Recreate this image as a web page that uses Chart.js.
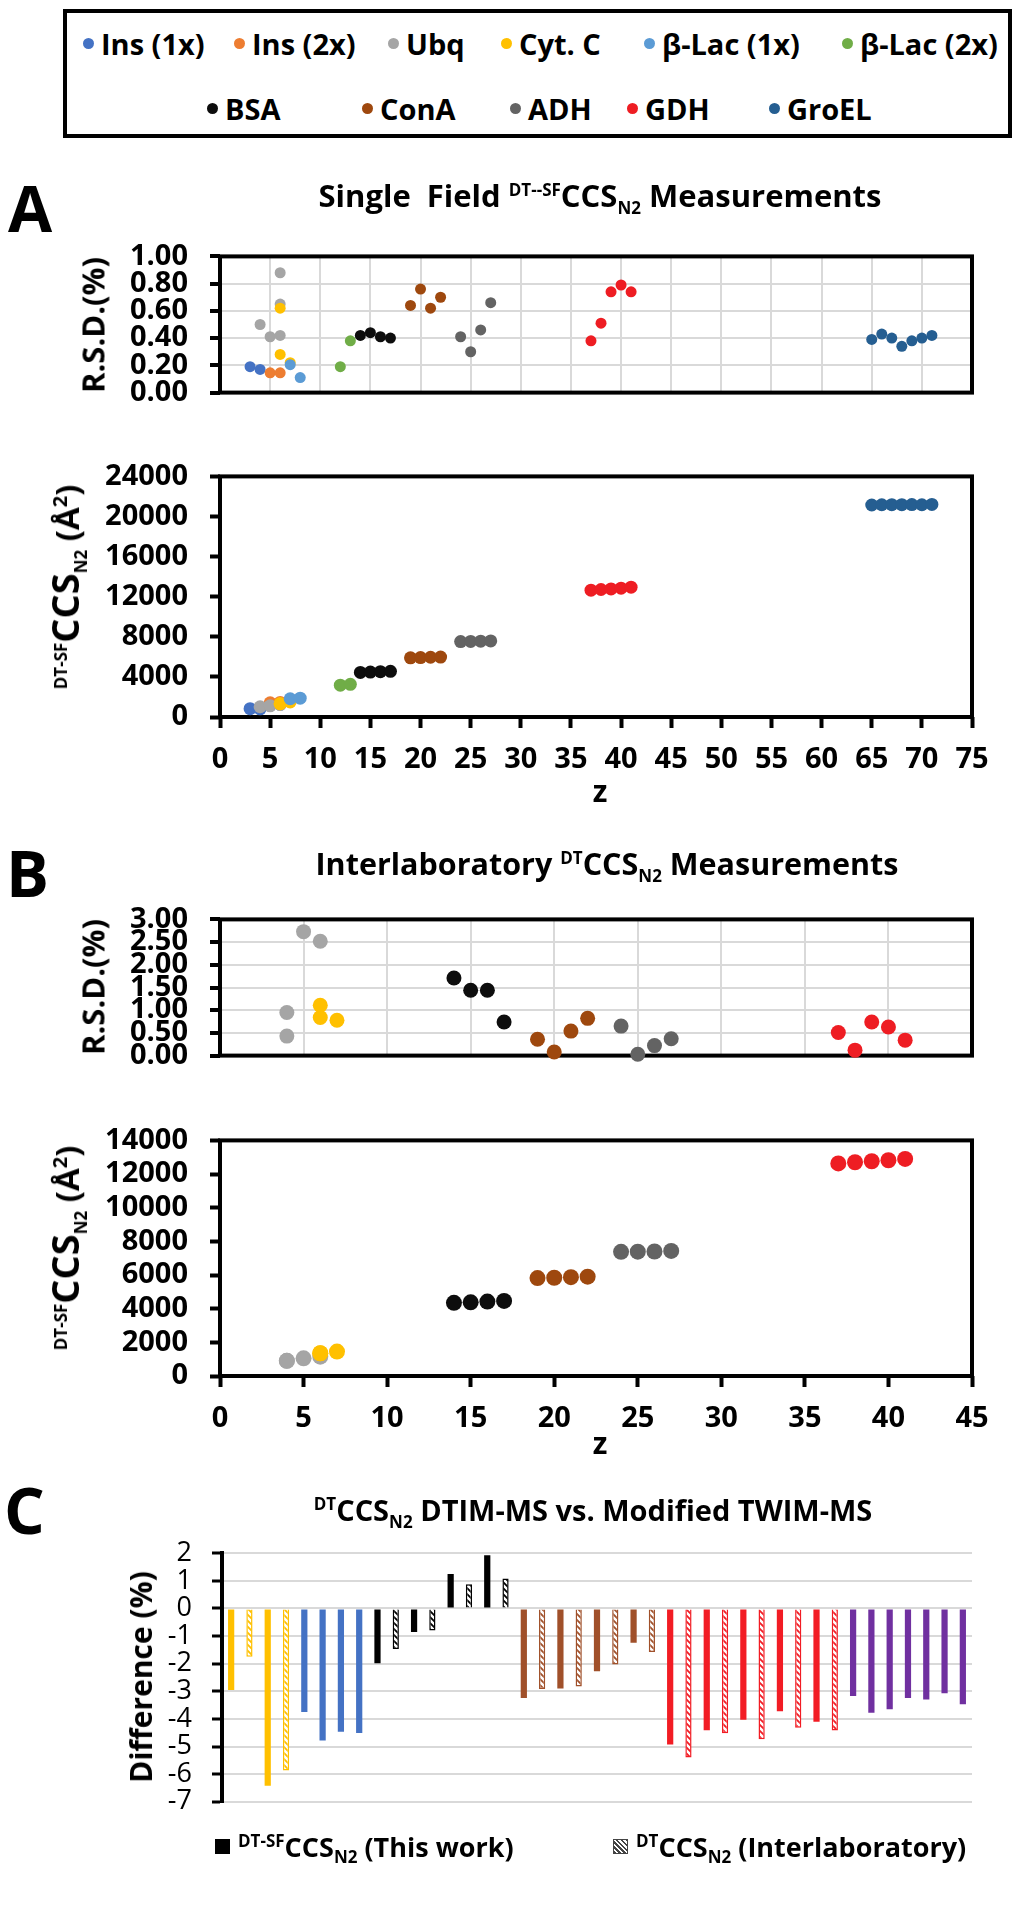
<!DOCTYPE html>
<html>
<head>
<meta charset="utf-8">
<title>CCS measurements</title>
<script src="https://cdn.jsdelivr.net/npm/chart.js@4.4.1/dist/chart.umd.min.js"></script>
<style>
  html, body { margin: 0; padding: 0; background: #fff; }
  #page { position: relative; width: 1025px; height: 1920px; overflow: hidden; font-family: 'Open Sans', sans-serif; color: #000; }
  #page canvas { position: absolute; left: 0; }
  .t { position: absolute; white-space: nowrap; line-height: 1; font-weight: 700; }
  .mid { transform: translateX(-50%); }
  .rot { transform: translate(-50%, -50%) rotate(-90deg); }
  .s { font-size: 17px; line-height: 0; }
  .big { font-size: 38px; }
  #legBox { position: absolute; left: 63px; top: 9px; width: 949px; height: 129px; border: 4px solid #000; box-sizing: border-box; }
  .li { position: absolute; height: 40px; display: flex; align-items: center; font-size: 29px; font-weight: 700; white-space: nowrap; }
  .li i { display: inline-block; width: 11px; height: 11px; border-radius: 50%; margin-right: 7px; }
  .cl { position: absolute; height: 40px; display: flex; align-items: center; font-size: 27px; font-weight: 700; white-space: nowrap; }
  .cl span.lab { line-height: 1; }
  .sq { display: inline-block; width: 15px; height: 15px; margin-right: 8px; box-sizing: border-box; }
</style>
</head>
<body>
<div id="page">
  <canvas id="aTop" width="1025" height="215" style="top:217px"></canvas>
  <canvas id="aBot" width="1025" height="345" style="top:437px"></canvas>
  <canvas id="bTop" width="1025" height="215" style="top:880px"></canvas>
  <canvas id="bBot" width="1025" height="340" style="top:1101px"></canvas>
  <canvas id="cBar" width="1025" height="321" style="top:1517px"></canvas>

  <!-- shared legend for A and B -->
  <div id="legBox"></div>
  <div class="li" style="left:83px;top:23px"><i style="background:#4472C4"></i>Ins (1x)</div>
  <div class="li" style="left:234px;top:23px"><i style="background:#ED7D31"></i>Ins (2x)</div>
  <div class="li" style="left:388px;top:23px"><i style="background:#A5A5A5"></i>Ubq</div>
  <div class="li" style="left:501px;top:23px"><i style="background:#FFC000"></i>Cyt. C</div>
  <div class="li" style="left:644px;top:23px"><i style="background:#5B9BD5"></i>β-Lac (1x)</div>
  <div class="li" style="left:842px;top:23px"><i style="background:#70AD47"></i>β-Lac (2x)</div>
  <div class="li" style="left:207px;top:88px"><i style="background:#0D0D0D"></i>BSA</div>
  <div class="li" style="left:362px;top:88px"><i style="background:#9E480E"></i>ConA</div>
  <div class="li" style="left:510px;top:88px"><i style="background:#636363"></i>ADH</div>
  <div class="li" style="left:627px;top:88px"><i style="background:#EE1D23"></i>GDH</div>
  <div class="li" style="left:769px;top:88px"><i style="background:#255E91"></i>GroEL</div>

  <!-- panel A -->
  <div class="t" style="left:8px;top:176px;font-size:64px">A</div>
  <div class="t mid" style="left:600px;top:180px;font-size:31px">Single&nbsp; Field <sup class="s">DT--SF</sup>CCS<sub class="s">N2</sub> Measurements</div>
  <div class="t rot" style="left:93px;top:325px;font-size:31px">R.S.D.(%)</div>
  <div class="t rot" style="left:64px;top:587px;font-size:33px"><sup class="s">DT-SF</sup><span class="big">CCS</span><sub class="s">N2</sub> (Å<sup style="font-size:20px;line-height:0">2</sup>)</div>
  <div class="t mid" style="left:600px;top:776px;font-size:30px">z</div>

  <!-- panel B -->
  <div class="t" style="left:6px;top:841px;font-size:64px">B</div>
  <div class="t mid" style="left:607px;top:848px;font-size:30.5px">Interlaboratory <sup class="s">DT</sup>CCS<sub class="s">N2</sub> Measurements</div>
  <div class="t rot" style="left:93px;top:987px;font-size:31px">R.S.D.(%)</div>
  <div class="t rot" style="left:64px;top:1248px;font-size:33px"><sup class="s">DT-SF</sup><span class="big">CCS</span><sub class="s">N2</sub> (Å<sup style="font-size:20px;line-height:0">2</sup>)</div>
  <div class="t mid" style="left:600px;top:1428px;font-size:30px">z</div>

  <!-- panel C -->
  <div class="t" style="left:4px;top:1478px;font-size:64px">C</div>
  <div class="t mid" style="left:593px;top:1495px;font-size:29px"><sup class="s">DT</sup>CCS<sub class="s">N2</sub> DTIM-MS vs. Modified TWIM-MS</div>
  <div class="t rot" style="left:141px;top:1677px;font-size:30px">Difference (%)</div>
  <div class="cl" style="left:215px;top:1826px"><span class="sq" style="background:#000"></span><span class="lab"><sup class="s">DT-SF</sup>CCS<sub class="s">N2</sub> (This work)</span></div>
  <div class="cl" style="left:613px;top:1826px"><span class="sq" style="border:1px solid #444;background:repeating-linear-gradient(45deg,#444 0 1.5px,#fff 1.5px 3.5px)"></span><span class="lab"><sup class="s">DT</sup>CCS<sub class="s">N2</sub> (Interlaboratory)</span></div>
</div>

<script>
// axis ticks
const zTicksA = [0, 5, 10, 15, 20, 25, 30, 35, 40, 45, 50, 55, 60, 65, 70, 75];
const rsdTicksA = [0, 0.2, 0.4, 0.6, 0.8, 1.0];
const ccsTicksA = [0, 4000, 8000, 12000, 16000, 20000, 24000];
const zTicksB = [0, 5, 10, 15, 20, 25, 30, 35, 40, 45];
const rsdTicksB = [0, 0.5, 1.0, 1.5, 2.0, 2.5, 3.0];
const ccsTicksB = [0, 2000, 4000, 6000, 8000, 10000, 12000, 14000];
const diffTicks = [-7, -6, -5, -4, -3, -2, -1, 0, 1, 2];

// A: single field DT-SF CCS (charge state, RSD %, CCS A^2)
const sfIns1Z = [3, 4];
const sfIns1Rsd = [0.19, 0.17];
const sfIns1Ccs = [830, 820];
const sfIns2Z = [5, 6];
const sfIns2Rsd = [0.145, 0.145];
const sfIns2Ccs = [1410, 1450];
const sfUbqZ = [4, 5, 6, 6, 6];
const sfUbqRsd = [0.50, 0.41, 0.42, 0.65, 0.88];
const sfUbqCcs = [1020, 1110, 1250, 1250, 1250];
const sfCytZ = [6, 6, 7];
const sfCytRsd = [0.62, 0.28, 0.22];
const sfCytCcs = [1320, 1320, 1500];
const sfLac1Z = [7, 8];
const sfLac1Rsd = [0.205, 0.11];
const sfLac1Ccs = [1820, 1880];
const sfLac2Z = [12, 13];
const sfLac2Rsd = [0.19, 0.38];
const sfLac2Ccs = [3170, 3260];
const sfBsaZ = [14, 15, 16, 17];
const sfBsaRsd = [0.42, 0.44, 0.41, 0.40];
const sfBsaCcs = [4450, 4480, 4520, 4560];
const sfConZ = [19, 20, 21, 22];
const sfConRsd = [0.64, 0.76, 0.62, 0.70];
const sfConCcs = [5900, 5930, 5960, 5980];
const sfAdhZ = [24, 25, 26, 27];
const sfAdhRsd = [0.41, 0.30, 0.46, 0.66];
const sfAdhCcs = [7520, 7540, 7560, 7590];
const sfGdhZ = [37, 38, 39, 40, 41];
const sfGdhRsd = [0.38, 0.51, 0.74, 0.79, 0.74];
const sfGdhCcs = [12650, 12720, 12780, 12850, 12950];
const sfGroZ = [65, 66, 67, 68, 69, 70, 71];
const sfGroRsd = [0.39, 0.43, 0.40, 0.34, 0.38, 0.40, 0.42];
const sfGroCcs = [21150, 21170, 21180, 21180, 21190, 21170, 21200];

// B: interlaboratory DT CCS
const ilUbqZ = [4, 4, 5, 6];
const ilUbqRsd = [0.95, 0.43, 2.73, 2.52];
const ilUbqCcs = [900, 900, 1050, 1150];
const ilCytZ = [6, 6, 7];
const ilCytRsd = [1.11, 0.84, 0.78];
const ilCytCcs = [1350, 1350, 1450];
const ilBsaZ = [14, 15, 16, 17];
const ilBsaRsd = [1.71, 1.44, 1.44, 0.74];
const ilBsaCcs = [4350, 4380, 4420, 4460];
const ilConZ = [19, 20, 21, 22];
const ilConRsd = [0.36, 0.08, 0.54, 0.82];
const ilConCcs = [5820, 5840, 5870, 5900];
const ilAdhZ = [24, 25, 26, 27];
const ilAdhRsd = [0.65, 0.03, 0.22, 0.37];
const ilAdhCcs = [7380, 7390, 7400, 7430];
const ilGdhZ = [37, 38, 39, 40, 41];
const ilGdhRsd = [0.51, 0.12, 0.74, 0.63, 0.34];
const ilGdhCcs = [12630, 12700, 12760, 12820, 12900];

// C: % difference DTIM-MS vs modified TWIM-MS, one bar per ion
const diffProtein = ['Cyt. C', 'Cyt. C', 'Cyt. C', 'Cyt. C', 'Ins', 'Ins', 'Ins', 'Ins',
  'BSA', 'BSA', 'BSA', 'BSA', 'BSA', 'BSA', 'BSA', 'BSA',
  'ConA', 'ConA', 'ConA', 'ConA', 'ConA', 'ConA', 'ConA', 'ConA',
  'GDH', 'GDH', 'GDH', 'GDH', 'GDH', 'GDH', 'GDH', 'GDH', 'GDH', 'GDH',
  'Other', 'Other', 'Other', 'Other', 'Other', 'Other', 'Other'];
const diffThisWork = [-2.95, null, -6.42, null, -3.75, -4.78, -4.46, -4.51,
  -1.98, null, -0.85, null, 1.25, null, 1.93, null,
  -3.24, null, -2.90, null, -2.27, null, -1.24, null,
  -4.93, null, -4.41, null, -4.03, null, -3.72, null, -4.10, null,
  -3.17, -3.78, -3.65, -3.24, -3.30, -3.07, -3.47];
const diffInterlab = [null, -1.75, null, -5.87, null, null, null, null,
  null, -1.47, null, -0.80, null, 0.88, null, 1.08,
  null, -2.92, null, -2.83, null, -2.03, null, -1.58,
  null, -5.40, null, -4.52, null, -4.74, null, -4.32, null, -4.42,
  null, null, null, null, null, null, null];

const colors = {
  'Ins (1x)': '#4472C4', 'Ins (2x)': '#ED7D31', 'Ubq': '#A5A5A5', 'Cyt. C': '#FFC000',
  'β-Lac (1x)': '#5B9BD5', 'β-Lac (2x)': '#70AD47', 'BSA': '#0D0D0D', 'ConA': '#9E480E',
  'ADH': '#636363', 'GDH': '#EE1D23', 'GroEL': '#255E91'
};
const barColors = { 'Cyt. C': '#FFC000', 'Ins': '#4472C4', 'BSA': '#000000', 'ConA': '#A0502A', 'GDH': '#F21C24', 'Other': '#7030A0' };

const singleField = [
  { name: 'Ins (1x)', z: sfIns1Z, rsd: sfIns1Rsd, ccs: sfIns1Ccs },
  { name: 'Ins (2x)', z: sfIns2Z, rsd: sfIns2Rsd, ccs: sfIns2Ccs },
  { name: 'Ubq', z: sfUbqZ, rsd: sfUbqRsd, ccs: sfUbqCcs },
  { name: 'Cyt. C', z: sfCytZ, rsd: sfCytRsd, ccs: sfCytCcs },
  { name: 'β-Lac (1x)', z: sfLac1Z, rsd: sfLac1Rsd, ccs: sfLac1Ccs },
  { name: 'β-Lac (2x)', z: sfLac2Z, rsd: sfLac2Rsd, ccs: sfLac2Ccs },
  { name: 'BSA', z: sfBsaZ, rsd: sfBsaRsd, ccs: sfBsaCcs },
  { name: 'ConA', z: sfConZ, rsd: sfConRsd, ccs: sfConCcs },
  { name: 'ADH', z: sfAdhZ, rsd: sfAdhRsd, ccs: sfAdhCcs },
  { name: 'GDH', z: sfGdhZ, rsd: sfGdhRsd, ccs: sfGdhCcs },
  { name: 'GroEL', z: sfGroZ, rsd: sfGroRsd, ccs: sfGroCcs }
];
const interlab = [
  { name: 'Ubq', z: ilUbqZ, rsd: ilUbqRsd, ccs: ilUbqCcs },
  { name: 'Cyt. C', z: ilCytZ, rsd: ilCytRsd, ccs: ilCytCcs },
  { name: 'BSA', z: ilBsaZ, rsd: ilBsaRsd, ccs: ilBsaCcs },
  { name: 'ConA', z: ilConZ, rsd: ilConRsd, ccs: ilConCcs },
  { name: 'ADH', z: ilAdhZ, rsd: ilAdhRsd, ccs: ilAdhCcs },
  { name: 'GDH', z: ilGdhZ, rsd: ilGdhRsd, ccs: ilGdhCcs }
];

Chart.defaults.font.family = "'Open Sans', sans-serif";
Chart.defaults.color = '#000';

// black box around the plot area
const frame = {
  id: 'frame',
  beforeDatasetsDraw(chart, args, opts) {
    if (!opts.on) return;
    const a = chart.chartArea;
    const ctx = chart.ctx;
    ctx.save();
    ctx.strokeStyle = '#000';
    ctx.lineWidth = 4;
    ctx.strokeRect(a.left, a.top, a.right - a.left, a.bottom - a.top);
    ctx.restore();
  }
};

const tickFont = { size: 29, weight: 'bold' };

function scatterChart(id, series, key, xTicks, yTicks, radius, labelled) {
  const datasets = series.map((s, i) => ({
    label: s.name,
    data: s.z.map((z, j) => ({ x: z, y: s[key][j] })),
    backgroundColor: colors[s.name],
    borderWidth: 0,
    pointRadius: radius,
    pointHoverRadius: radius,
    order: -i,
    clip: false
  }));
  const fmt = key === 'rsd' ? v => v.toFixed(2) : v => String(v);
  return new Chart(document.getElementById(id), {
    type: 'scatter',
    data: { datasets: datasets },
    options: {
      responsive: false,
      animation: false,
      events: [],
      layout: { padding: { top: 20, right: 53, left: 0, bottom: 0 } },
      plugins: { legend: { display: false }, tooltip: { enabled: false }, frame: { on: true } },
      scales: {
        x: {
          type: 'linear',
          min: xTicks[0],
          max: xTicks[xTicks.length - 1],
          afterBuildTicks: s => { s.ticks = xTicks.map(v => ({ value: v })); },
          afterFit: s => { s.height = labelled ? 65 : 20; },
          border: { display: false },
          grid: labelled
            ? { drawOnChartArea: false, tickColor: '#000', tickWidth: 4, tickLength: 11 }
            : { color: '#d9d9d9', lineWidth: 2, drawTicks: false },
          ticks: { display: labelled, autoSkip: false, padding: 14, font: tickFont, color: '#000', maxRotation: 0 }
        },
        y: {
          min: yTicks[0],
          max: yTicks[yTicks.length - 1],
          afterBuildTicks: s => { s.ticks = yTicks.map(v => ({ value: v })); },
          afterFit: s => { s.width = 220; },
          border: { display: false },
          grid: labelled
            ? { drawOnChartArea: false, tickColor: '#000', tickWidth: 4, tickLength: 10 }
            : { color: '#d9d9d9', lineWidth: 2, tickColor: '#000', tickWidth: 4, tickLength: 10 },
          ticks: { autoSkip: false, padding: 22, font: tickFont, color: '#000', callback: fmt }
        }
      }
    },
    plugins: [frame]
  });
}

scatterChart('aTop', singleField, 'rsd', zTicksA, rsdTicksA, 5.5, false);
scatterChart('aBot', singleField, 'ccs', zTicksA, ccsTicksA, 6.5, true);
scatterChart('bTop', interlab, 'rsd', zTicksB, rsdTicksB, 7.5, false);
scatterChart('bBot', interlab, 'ccs', zTicksB, ccsTicksB, 8, true);

// diagonal hatch for the interlaboratory bars
const hatchCache = {};
function hatch(color) {
  if (!hatchCache[color]) {
    const c = document.createElement('canvas');
    c.width = 6;
    c.height = 6;
    const g = c.getContext('2d');
    g.fillStyle = '#fff';
    g.fillRect(0, 0, 6, 6);
    g.strokeStyle = color;
    g.lineWidth = 1.8;
    g.beginPath();
    g.moveTo(-1, -1); g.lineTo(7, 7);
    g.moveTo(5, -1); g.lineTo(7, 1);
    g.moveTo(-1, 5); g.lineTo(1, 7);
    g.stroke();
    hatchCache[color] = g.createPattern(c, 'repeat');
  }
  return hatchCache[color];
}

new Chart(document.getElementById('cBar'), {
  type: 'bar',
  data: {
    labels: diffProtein,
    datasets: [
      {
        label: 'DT-SF CCS N2 (This work)',
        data: diffThisWork,
        backgroundColor: ctx => barColors[diffProtein[ctx.dataIndex]],
        borderWidth: 0,
        skipNull: true
      },
      {
        label: 'DT CCS N2 (Interlaboratory)',
        data: diffInterlab,
        backgroundColor: ctx => hatch(barColors[diffProtein[ctx.dataIndex]]),
        borderColor: ctx => barColors[diffProtein[ctx.dataIndex]],
        borderWidth: 1.5,
        skipNull: true
      }
    ]
  },
  options: {
    responsive: false,
    animation: false,
    events: [],
    datasets: { bar: { categoryPercentage: 1, barPercentage: 0.34 } },
    layout: { padding: { top: 20, right: 53, left: 0, bottom: 0 } },
    plugins: { legend: { display: false }, tooltip: { enabled: false } },
    scales: {
      x: {
        ticks: { display: false },
        grid: { display: false },
        border: { display: false },
        afterFit: s => { s.height = 20; }
      },
      y: {
        min: -7,
        max: 2,
        afterBuildTicks: s => { s.ticks = diffTicks.map(v => ({ value: v })); },
        afterFit: s => { s.width = 222; },
        border: { display: true, color: '#000', width: 4 },
        grid: { color: '#d9d9d9', lineWidth: 2, tickColor: '#000', tickWidth: 3, tickLength: 10 },
        ticks: { autoSkip: false, padding: 20, font: { size: 27, weight: 'normal' }, color: '#000' }
      }
    }
  }
});
</script>
</body>
</html>
